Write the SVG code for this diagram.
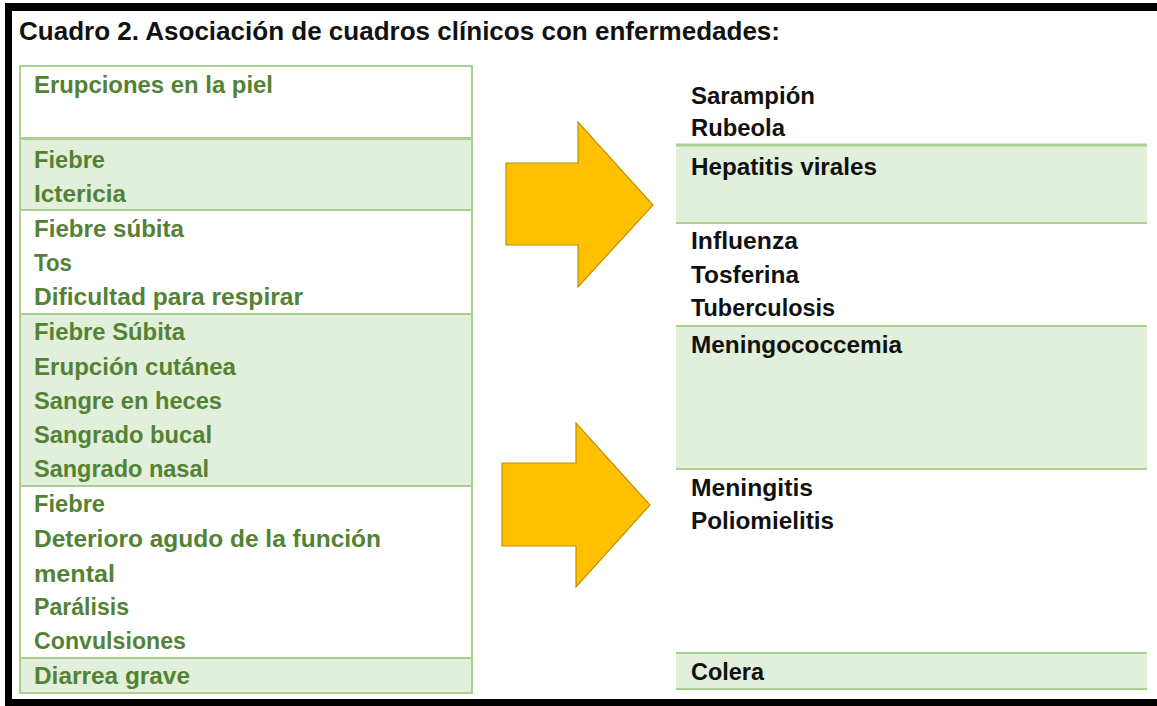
<svg xmlns="http://www.w3.org/2000/svg" width="1157" height="706" viewBox="0 0 1157 706">
<style>
text{font-family:"Liberation Sans",Arial,sans-serif;font-weight:bold;font-size:23px}
.g{fill:#548235}
.k{fill:#111}
.t{font-size:25px;fill:#111}
.wr{fill:#fff;stroke:#A9D08E;stroke-width:2}
.gr{fill:#E2EFDA;stroke:#A9D08E;stroke-width:2}
.rf{fill:#E2EFDA}
.rl{stroke:#A9D08E;stroke-width:2}
.arr{fill:#FFC000;stroke:#BF9000;stroke-width:1.2}
</style>
<rect x="0" y="0" width="1157" height="706" fill="#fff"/>
<g id="frame" fill="#000">
<rect x="5" y="3" width="1152" height="8"/>
<rect x="5" y="3" width="7" height="703"/>
<rect x="5" y="699" width="1152" height="7"/>
</g>
<g id="title"><text class="t" x="19" y="40" textLength="761" lengthAdjust="spacingAndGlyphs">Cuadro 2. Asociación de cuadros clínicos con enfermedades:</text></g>

<g id="left-row1"><rect class="wr" x="20" y="66" width="452" height="72"/>
<text class="g" x="34" y="93" textLength="239" lengthAdjust="spacingAndGlyphs">Erupciones en la piel</text></g>
<g id="left-row2"><rect class="gr" x="20" y="139" width="452" height="71"/>
<text class="g" x="34" y="168" textLength="71" lengthAdjust="spacingAndGlyphs">Fiebre</text>
<text class="g" x="34" y="202" textLength="92" lengthAdjust="spacingAndGlyphs">Ictericia</text></g>
<g id="left-row3"><rect class="wr" x="20" y="210" width="452" height="104"/>
<text class="g" x="34" y="237" textLength="150" lengthAdjust="spacingAndGlyphs">Fiebre súbita</text>
<text class="g" x="34" y="271" textLength="38" lengthAdjust="spacingAndGlyphs">Tos</text>
<text class="g" x="34" y="305" textLength="269" lengthAdjust="spacingAndGlyphs">Dificultad para respirar</text></g>
<g id="left-row4"><rect class="gr" x="20" y="314" width="452" height="172"/>
<text class="g" x="34" y="340" textLength="151" lengthAdjust="spacingAndGlyphs">Fiebre Súbita</text>
<text class="g" x="34" y="375" textLength="202" lengthAdjust="spacingAndGlyphs">Erupción cutánea</text>
<text class="g" x="34" y="409" textLength="188" lengthAdjust="spacingAndGlyphs">Sangre en heces</text>
<text class="g" x="34" y="443" textLength="178" lengthAdjust="spacingAndGlyphs">Sangrado bucal</text>
<text class="g" x="34" y="477" textLength="175" lengthAdjust="spacingAndGlyphs">Sangrado nasal</text></g>
<g id="left-row5"><rect class="wr" x="20" y="486" width="452" height="172"/>
<text class="g" x="34" y="512" textLength="71" lengthAdjust="spacingAndGlyphs">Fiebre</text>
<text class="g" x="34" y="547" textLength="347" lengthAdjust="spacingAndGlyphs">Deterioro agudo de la función</text>
<text class="g" x="34" y="582" textLength="81" lengthAdjust="spacingAndGlyphs">mental</text>
<text class="g" x="34" y="615" textLength="95" lengthAdjust="spacingAndGlyphs">Parálisis</text>
<text class="g" x="34" y="649" textLength="152" lengthAdjust="spacingAndGlyphs">Convulsiones</text></g>
<g id="left-row6"><rect class="gr" x="20" y="658" width="452" height="35"/>
<text class="g" x="34" y="684" textLength="156" lengthAdjust="spacingAndGlyphs">Diarrea grave</text></g>

<g id="right-sarampion-rubeola">
<text class="k" x="691" y="104" textLength="124" lengthAdjust="spacingAndGlyphs">Sarampión</text>
<text class="k" x="691" y="136" textLength="94" lengthAdjust="spacingAndGlyphs">Rubeola</text></g>
<g id="right-hepatitis"><rect class="rf" x="676" y="145" width="471" height="78"/>
<line class="rl" x1="676" y1="145" x2="1147" y2="145" style="stroke-width:3"/>
<line class="rl" x1="676" y1="223" x2="1147" y2="223"/>
<text class="k" x="691" y="175" textLength="186" lengthAdjust="spacingAndGlyphs">Hepatitis virales</text></g>
<g id="right-respiratorias">
<text class="k" x="691" y="249" textLength="107" lengthAdjust="spacingAndGlyphs">Influenza</text>
<text class="k" x="691" y="283" textLength="108" lengthAdjust="spacingAndGlyphs">Tosferina</text>
<text class="k" x="691" y="316" textLength="144" lengthAdjust="spacingAndGlyphs">Tuberculosis</text></g>
<g id="right-meningococcemia"><rect class="rf" x="676" y="326" width="471" height="143"/>
<line class="rl" x1="676" y1="326" x2="1147" y2="326"/>
<line class="rl" x1="676" y1="469" x2="1147" y2="469"/>
<text class="k" x="691" y="353" textLength="211" lengthAdjust="spacingAndGlyphs">Meningococcemia</text></g>
<g id="right-meningitis-polio">
<text class="k" x="691" y="496" textLength="122" lengthAdjust="spacingAndGlyphs">Meningitis</text>
<text class="k" x="691" y="529" textLength="143" lengthAdjust="spacingAndGlyphs">Poliomielitis</text></g>
<g id="right-colera"><rect class="rf" x="676" y="653" width="471" height="36"/>
<line class="rl" x1="676" y1="653" x2="1147" y2="653"/>
<line class="rl" x1="676" y1="689" x2="1147" y2="689"/>
<text class="k" x="691" y="680" textLength="73" lengthAdjust="spacingAndGlyphs">Colera</text></g>

<g id="connectors">
<polygon class="arr" points="506,163 578,163 578,122 653,205 578,287 578,245 506,245"/>
<polygon class="arr" points="502,463 576,463 576,423 650,505 576,587 576,546 502,546"/>
</g>
</svg>
